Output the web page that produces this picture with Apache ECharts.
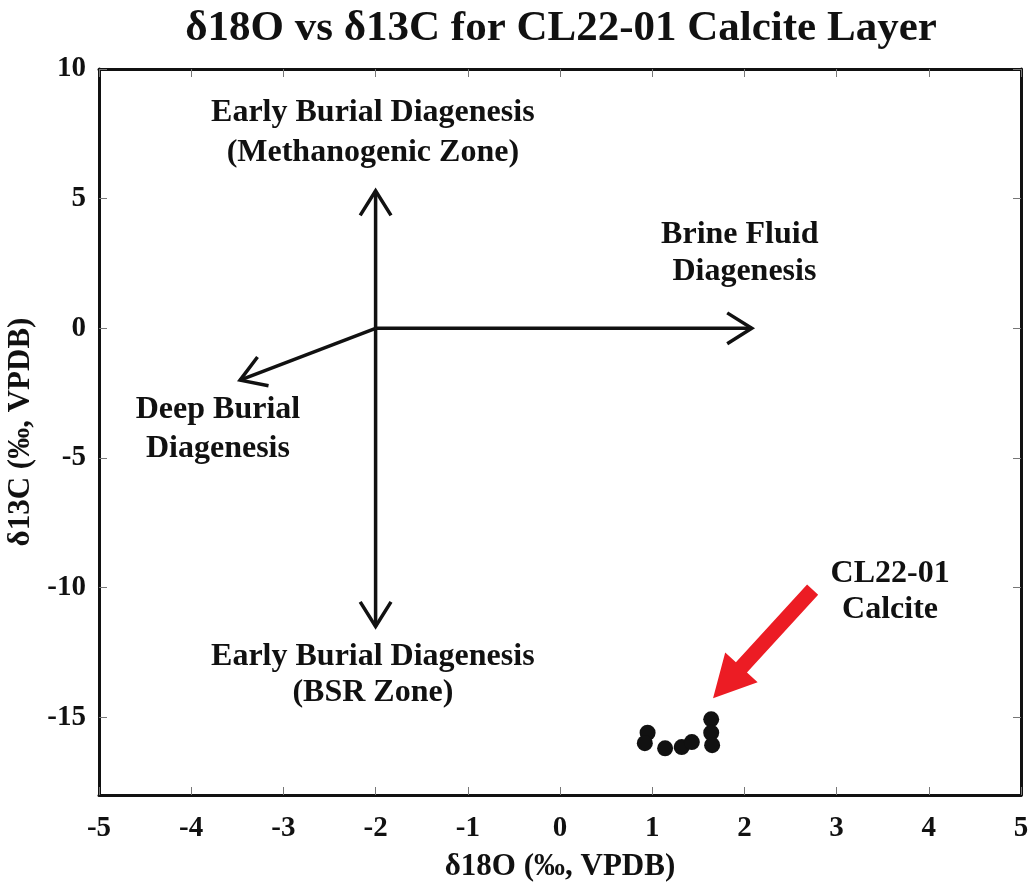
<!DOCTYPE html>
<html>
<head>
<meta charset="utf-8">
<script src="https://cdn.jsdelivr.net/npm/echarts@6/dist/echarts.min.js"></script>
<style>
html,body{margin:0;padding:0;background:#fff;}
#chart{width:1034px;height:892px;}
</style>
</head>
<body>
<div id="chart"></div>
<script>
// ---- data ----
const d18O = [0.95, 0.92, 1.14, 1.32, 1.43, 1.64, 1.64, 1.65];
const d13C = [-15.6, -16.0, -16.2, -16.15, -15.96, -15.08, -15.6, -16.08];

const xTicks = [-5, -4, -3, -2, -1, 0, 1, 2, 3, 4, 5];
const yTicks = [-15, -10, -5, 0, 5, 10];

// diagenesis trend arrows: [x0, y0, x1, y1]
const trendArrows = [
  [-2, 0, -2, 5.3],
  [-2, 0, -2, -11.5],
  [-2, 0, 2.08, 0],
  [-2, 0, -3.47, -2.0]
];
// highlight arrow pointing at the samples
const highlightArrow = [[2.74, -10.08, 1.66, -14.27]];

// annotation texts: [x, y, text]
const annotations = [
  [-2.03, 8.30, 'Early Burial Diagenesis'],
  [-2.03, 6.76, '(Methanogenic Zone)'],
  [1.95, 3.60, 'Brine Fluid'],
  [2.0, 2.17, 'Diagenesis'],
  [-3.71, -3.15, 'Deep Burial'],
  [-3.71, -4.65, 'Diagenesis'],
  [-2.03, -12.68, 'Early Burial Diagenesis'],
  [-2.03, -14.07, '(BSR Zone)'],
  [3.58, -9.48, 'CL22-01'],
  [3.58, -10.86, 'Calcite']
];

const FONT = '"Liberation Serif", "Times New Roman", serif';
const chart = echarts.init(document.getElementById('chart'), null, {renderer: 'canvas'});

const axisLineStyle = {color: '#111', width: 3};
const tickStyle = {color: '#777', width: 1};

const option = {
  animation: false,
  backgroundColor: '#fff',
  title: {
    text: '\u03b418O vs \u03b413C for CL22-01 Calcite Layer',
    left: 556,
    textAlign: 'center',
    top: 2,
    textStyle: {fontFamily: FONT, fontWeight: 'bold', fontSize: 43, color: '#111'}
  },
  grid: {left: 99, right: 13, top: 69, bottom: 97, containLabel: false, outerBoundsMode: 'none'},
  xAxis: [{
    type: 'value', min: -5, max: 5, interval: 1, position: 'bottom',
    axisLine: {show: true, onZero: false, lineStyle: axisLineStyle},
    axisTick: {show: true, inside: true, length: 8, lineStyle: tickStyle},
    axisLabel: {fontFamily: FONT, fontWeight: 'bold', fontSize: 29, color: '#111', margin: 19,
      customValues: xTicks},
    splitLine: {show: false},
    name: '\u03b418O (\u2030, VPDB)', nameLocation: 'middle', nameGap: 56,
    nameTextStyle: {fontFamily: FONT, fontWeight: 'bold', fontSize: 31, color: '#111'}
  }, {
    type: 'value', min: -5, max: 5, interval: 1, position: 'top',
    axisLine: {show: true, onZero: false, lineStyle: axisLineStyle},
    axisTick: {show: true, inside: true, length: 8, lineStyle: tickStyle},
    axisLabel: {show: false},
    splitLine: {show: false}
  }],
  yAxis: [{
    type: 'value', min: -18, max: 10, position: 'left',
    axisLine: {show: true, onZero: false, lineStyle: axisLineStyle},
    axisTick: {show: true, inside: true, length: 8, lineStyle: tickStyle, customValues: yTicks},
    axisLabel: {fontFamily: FONT, fontWeight: 'bold', fontSize: 29, color: '#111', margin: 13,
      customValues: yTicks},
    splitLine: {show: false},
    name: '\u03b413C (\u2030, VPDB)', nameLocation: 'middle', nameGap: 60, nameRotate: 90,
    nameTextStyle: {fontFamily: FONT, fontWeight: 'bold', fontSize: 31, color: '#111'}
  }, {
    type: 'value', min: -18, max: 10, position: 'right',
    axisLine: {show: true, onZero: false, lineStyle: axisLineStyle},
    axisTick: {show: true, inside: true, length: 8, lineStyle: tickStyle, customValues: yTicks},
    axisLabel: {show: false},
    splitLine: {show: false}
  }],
  series: [
    {
      type: 'custom', name: 'trend', xAxisIndex: 0, yAxisIndex: 0,
      data: trendArrows,
      encode: {x: [0, 2], y: [1, 3]},
      silent: true,
      renderItem: function (params, api) {
        const p0 = api.coord([api.value(0), api.value(1)]);
        const p1 = api.coord([api.value(2), api.value(3)]);
        const ang = Math.atan2(p1[1] - p0[1], p1[0] - p0[0]);
        const L = 29, a = 0.56;
        const b1 = [p1[0] - L * Math.cos(ang - a), p1[1] - L * Math.sin(ang - a)];
        const b2 = [p1[0] - L * Math.cos(ang + a), p1[1] - L * Math.sin(ang + a)];
        const st = {stroke: '#111', lineWidth: 3.5, fill: null, lineJoin: 'miter'};
        return {type: 'group', children: [
          {type: 'line', shape: {x1: p0[0], y1: p0[1], x2: p1[0], y2: p1[1]}, style: st},
          {type: 'polyline', shape: {points: [b1, p1, b2]}, style: st}
        ]};
      }
    },
    {
      type: 'custom', name: 'highlight', xAxisIndex: 0, yAxisIndex: 0,
      data: highlightArrow,
      encode: {x: [0, 2], y: [1, 3]},
      silent: true,
      renderItem: function (params, api) {
        const p0 = api.coord([api.value(0), api.value(1)]);
        const p1 = api.coord([api.value(2), api.value(3)]);
        const dx = p1[0] - p0[0], dy = p1[1] - p0[1];
        const len = Math.sqrt(dx * dx + dy * dy);
        const ux = dx / len, uy = dy / len, nx = -uy, ny = ux;
        const hw = 7.5, headL = 42, headW = 22;
        const bx = p1[0] - ux * headL, by = p1[1] - uy * headL;
        const pts = [
          [p0[0] + nx * hw, p0[1] + ny * hw],
          [bx + nx * hw, by + ny * hw],
          [bx + nx * headW, by + ny * headW],
          [p1[0], p1[1]],
          [bx - nx * headW, by - ny * headW],
          [bx - nx * hw, by - ny * hw],
          [p0[0] - nx * hw, p0[1] - ny * hw]
        ];
        return {type: 'polygon', shape: {points: pts}, style: {fill: '#ec1c24', stroke: null}};
      }
    },
    {
      type: 'custom', name: 'labels', xAxisIndex: 0, yAxisIndex: 0,
      data: annotations,
      encode: {x: 0, y: 1},
      silent: true,
      renderItem: function (params, api) {
        const item = annotations[params.dataIndex];
        const p = api.coord([item[0], item[1]]);
        return {type: 'text', x: p[0], y: p[1], style: {
          text: item[2], fill: '#111', align: 'center', verticalAlign: 'middle',
          font: 'bold 32px ' + FONT
        }};
      }
    },
    {
      type: 'scatter', name: 'CL22-01 Calcite', xAxisIndex: 0, yAxisIndex: 0,
      data: d18O.map((x, i) => [x, d13C[i]]),
      symbol: 'circle', symbolSize: 16,
      itemStyle: {color: '#111', opacity: 1},
      z: 5
    }
  ]
};
chart.setOption(option);
</script>
</body>
</html>
